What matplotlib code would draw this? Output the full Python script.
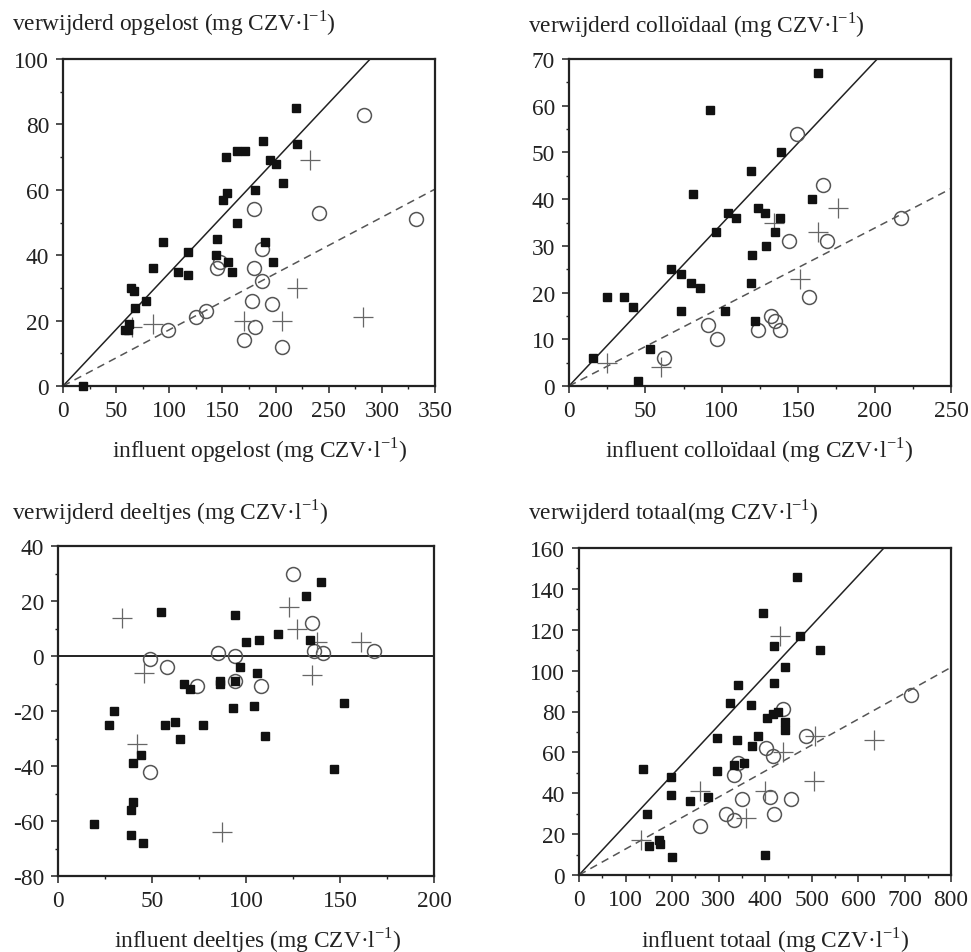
import matplotlib
matplotlib.use("Agg")
import matplotlib.pyplot as plt
from matplotlib.ticker import MultipleLocator

plt.rcParams['font.family'] = ['Liberation Serif', 'DejaVu Serif']
plt.rcParams['mathtext.fontset'] = 'custom'
plt.rcParams['mathtext.rm'] = 'Liberation Serif'
plt.rcParams['axes.unicode_minus'] = False

# --- data ---
# opgelost
p1_sq_x = [219, 153, 164, 171, 188, 195, 200, 220, 207, 154, 151, 181, 164, 145, 94, 118, 144,
           190, 155, 159, 198, 85, 108, 118, 64, 67, 78, 68, 62, 61, 58, 19]
p1_sq_y = [85, 70, 72, 72, 75, 69, 68, 74, 62, 59, 57, 60, 50, 45, 44, 41, 40,
           44, 38, 35, 38, 36, 35, 34, 30, 29, 26, 24, 19, 17, 17, 0]
p1_ci_x = [283, 180, 241, 332, 187, 145, 148, 180, 187, 178, 197, 135, 125, 99, 181, 170, 206]
p1_ci_y = [83, 54, 53, 51, 42, 36, 38, 36, 32, 26, 25, 23, 21, 17, 18, 14, 12]
p1_pl_x = [232, 220, 282, 206, 170, 85, 65]
p1_pl_y = [69, 30, 21, 20, 20, 19, 18]
p1_slopes = [0.346, 0.172]

# colloidaal
p2_sq_x = [163, 92, 139, 119, 81, 159, 104, 109, 124, 128, 138, 135, 96, 129, 120, 67, 73, 80,
           86, 119, 25, 36, 42, 73, 102, 122, 53, 16, 45]
p2_sq_y = [67, 59, 50, 46, 41, 40, 37, 36, 38, 37, 36, 33, 33, 30, 28, 25, 24, 22,
           21, 22, 19, 19, 17, 16, 16, 14, 8, 6, 1]
p2_ci_x = [149, 166, 217, 144, 169, 157, 132, 135, 124, 138, 91, 97, 62]
p2_ci_y = [54, 43, 36, 31, 31, 19, 15, 14, 12, 12, 13, 10, 6]
p2_pl_x = [176, 134, 163, 151, 25, 60]
p2_pl_y = [38, 35, 33, 23, 5, 4]
p2_slopes = [0.347, 0.169]

# deeltjes
p3_sq_x = [140, 132, 55, 94, 117, 107, 100, 134, 97, 106, 67, 70, 86, 86, 94, 93, 104, 152,
           30, 27, 57, 62, 77, 65, 110, 44, 40, 147, 40, 39, 19, 39, 45]
p3_sq_y = [27, 22, 16, 15, 8, 6, 5, 6, -4, -6, -10, -12, -9, -10, -9, -19, -18, -17,
           -20, -25, -25, -24, -25, -30, -29, -36, -39, -41, -53, -56, -61, -65, -68]
p3_ci_x = [125, 135, 136, 141, 168, 85, 94, 49, 58, 74, 108, 94, 49]
p3_ci_y = [30, 12, 2, 1, 2, 1, 0, -1, -4, -11, -11, -9, -42]
p3_pl_x = [34, 123, 127, 138, 161, 135, 46, 42, 87]
p3_pl_y = [14, 18, 10, 5, 5, -7, -6, -32, -64]

# totaal
p4_sq_x = [468, 395, 475, 419, 518, 444, 419, 342, 324, 369, 405, 418, 428, 444, 443, 297, 339,
           385, 371, 333, 355, 296, 138, 197, 197, 238, 278, 147, 151, 172, 175, 199, 400]
p4_sq_y = [146, 128, 117, 112, 110, 102, 94, 93, 84, 83, 77, 79, 80, 75, 71, 67, 66,
           68, 63, 54, 55, 51, 52, 48, 39, 36, 38, 30, 14, 17, 15, 9, 10]
p4_ci_x = [715, 439, 488, 403, 417, 342, 334, 351, 410, 455, 316, 334, 419, 261]
p4_ci_y = [88, 81, 68, 62, 58, 55, 49, 37, 38, 37, 30, 27, 30, 24]
p4_pl_x = [432, 635, 507, 439, 505, 400, 261, 360, 134]
p4_pl_y = [117, 66, 68, 60, 46, 41, 41, 28, 17]
p4_slopes = [0.244, 0.127]

unit = ' (mg CZV·l$^{\\mathregular{-1}}$)'
titles = ['verwijderd opgelost' + unit, 'verwijderd colloïdaal' + unit,
          'verwijderd deeltjes' + unit, 'verwijderd totaal(mg CZV·l$^{\\mathregular{-1}}$)']
xlabels = ['influent opgelost' + unit, 'influent colloïdaal' + unit,
           'influent deeltjes' + unit, 'influent totaal' + unit]

W, H = 971, 953
fig = plt.figure(figsize=(W / 100, H / 100), dpi=100)

# pixel boxes: left, right, top, bottom
boxes = [(63, 435, 60, 387), (569, 951, 60, 387), (58, 434, 547, 877), (579, 951, 549, 876)]
title_pos = [(12, 23), (528, 25), (12, 512), (528, 512)]
xlab_pos = [(260, 450), (759, 450), (258, 940), (775, 940)]
limits = [((0, 350), (0, 100), 50, 25, 20, 10),
          ((0, 250), (0, 70), 50, 25, 10, 5),
          ((0, 200), (-80, 40), 50, 25, 20, 10),
          ((0, 800), (0, 160), 100, 50, 20, 10)]

data = [(p1_sq_x, p1_sq_y, p1_ci_x, p1_ci_y, p1_pl_x, p1_pl_y, p1_slopes),
        (p2_sq_x, p2_sq_y, p2_ci_x, p2_ci_y, p2_pl_x, p2_pl_y, p2_slopes),
        (p3_sq_x, p3_sq_y, p3_ci_x, p3_ci_y, p3_pl_x, p3_pl_y, None),
        (p4_sq_x, p4_sq_y, p4_ci_x, p4_ci_y, p4_pl_x, p4_pl_y, p4_slopes)]

fs = 16.8
for i in range(4):
    l, r, t, b = boxes[i]
    ax = fig.add_axes([l / W, (H - b) / H, (r - l) / W, (b - t) / H])
    sx, sy, cx, cy, px, py, slopes = data[i]
    xl, yl, xmaj, xmin, ymaj, ymin = limits[i]

    if slopes is None:
        ax.axhline(0, color='#111111', lw=1.3, zorder=1)
    else:
        ax.axline((0, 0), slope=slopes[0], color='#222222', lw=1.1, zorder=1)
        ax.axline((0, 0), slope=slopes[1], color='#555555', lw=1.1, ls=(0, (5, 3.5)), zorder=1)

    ax.plot(cx, cy, 'o', ms=10, mfc='none', mec='#555555', mew=1.1, ls='none', zorder=2)
    ax.plot(px, py, '+', ms=15, mec='#666666', mew=0.9, ls='none', zorder=2)
    ax.plot(sx, sy, 's', ms=5.5, mfc='#111111', mec='#111111', ls='none', zorder=3, clip_on=False)

    ax.set_xlim(*xl)
    ax.set_ylim(*yl)
    ax.xaxis.set_major_locator(MultipleLocator(xmaj))
    ax.xaxis.set_minor_locator(MultipleLocator(xmin))
    ax.yaxis.set_major_locator(MultipleLocator(ymaj))
    ax.yaxis.set_minor_locator(MultipleLocator(ymin))
    ax.tick_params(which='major', direction='out', length=5, width=1.1, labelsize=fs, pad=5,
                   colors='#222222')
    ax.tick_params(which='minor', direction='out', length=2.5, width=1.0, colors='#222222')
    for sp in ax.spines.values():
        sp.set_linewidth(1.6)
        sp.set_color('#222222')

    tx, ty = title_pos[i]
    fig.text(tx / W, 1 - ty / H, titles[i], fontsize=fs, ha='left', va='center', color='#222222')
    lx, ly = xlab_pos[i]
    fig.text(lx / W, 1 - ly / H, xlabels[i], fontsize=fs, ha='center', va='center', color='#222222')

fig.savefig('out.png', dpi=100)
